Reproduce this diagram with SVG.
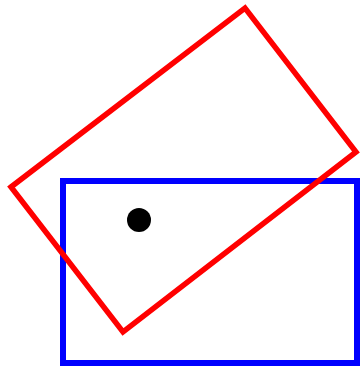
<svg xmlns="http://www.w3.org/2000/svg" width="360" height="367" viewBox="0 0 360 367">
<rect width="360" height="367" fill="#fff"/>
<g id="blue-rect"><rect x="63" y="181" width="294" height="182" fill="none" stroke="#0000ff" stroke-width="6"/></g>
<g id="red-rect"><polygon points="11,187 245,8 356,152 123,332" fill="none" stroke="#ff0000" stroke-width="5.5"/></g>
<g id="dot"><circle cx="139" cy="220" r="12" fill="#000"/></g>
</svg>
